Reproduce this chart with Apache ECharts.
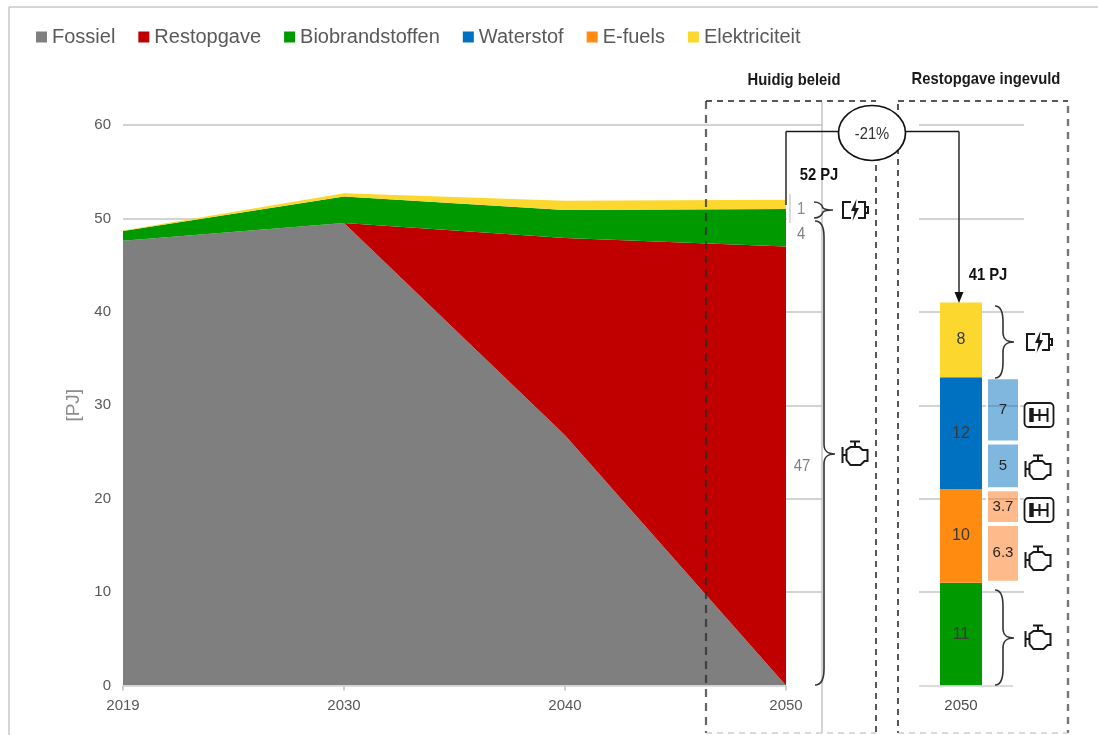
<!DOCTYPE html>
<html>
<head>
<meta charset="utf-8">
<style>
  html, body { margin: 0; padding: 0; background: #fff; }
  #chart { width: 1098px; height: 735px; }
</style>
<script src="https://cdn.jsdelivr.net/npm/echarts@6/dist/echarts.min.js"></script>
</head>
<body>
<div id="chart"></div>
<script>
// Road transport energy demand in PJ: trajectory to 2050 and the filled-in 2050 mix.
const years = ['2019', '2030', '2040', '2050'];
const fossil = [47.6, 49.5, 26.8, 0];
const remainder = [0, 0, 21.1, 47];
const biofuels = [1.05, 2.85, 3, 4];
const electricity = [0.05, 0.35, 1, 1];

const mixCategory = ['', '', '2050', '', '', ''];
const mixBiofuels = [11];
const mixEfuels = [10];
const mixHydrogen = [12];
const mixElectricity = [8];

// Split of the hydrogen and e-fuel blocks by vehicle type
const efuelsEngine = [6.3];
const efuelsTruck = [3.7];
const hydrogenEngine = [5];
const hydrogenTruck = [7];

const legendNames = ['Fossiel', 'Restopgave', 'Biobrandstoffen', 'Waterstof', 'E-fuels', 'Elektriciteit'];
const policyTitle = 'Huidig beleid';
const filledTitle = 'Restopgave ingevuld';
const reductionLabel = '-21%';

const COLORS = { fossil: '#7f7f7f', remainder: '#c00000', bio: '#009900', hydrogen: '#0070c0', efuel: '#ff8c10', elec: '#fcd82e' };
const PALE_HYDROGEN = 'rgba(0,112,192,0.5)';
const PALE_EFUEL = 'rgba(255,122,32,0.52)';
const FONT = '"Liberation Sans", Arial, sans-serif';
const MAIN_SLOT = 2, SPLIT_SLOT = 4, SLOT_COUNT = mixCategory.length;

const last = years.length - 1;
const total2050 = fossil[last] + remainder[last] + biofuels[last] + electricity[last];
const mixTotal = mixBiofuels[0] + mixEfuels[0] + mixHydrogen[0] + mixElectricity[0];

function areaSeries(name, values, color) {
  return {
    name, type: 'line', stack: 'trajectory', xAxisIndex: 0, yAxisIndex: 0,
    data: values,
    symbol: 'none', lineStyle: { width: 0 }, itemStyle: { color },
    areaStyle: { color, opacity: 1 }, z: 3
  };
}

function slotted(values, slot) {
  const row = new Array(SLOT_COUNT).fill(null);
  row[slot] = values[0];
  return row;
}

function mainBar(name, values, color) {
  return {
    name, type: 'bar', stack: 'mix', xAxisIndex: 1, yAxisIndex: 1, barWidth: 42,
    data: slotted(values, MAIN_SLOT), itemStyle: { color }, z: 3,
    label: { show: true, position: 'inside', color: '#3a3a3a', fontFamily: FONT, fontSize: 16 }
  };
}

function splitBar(name, values, color) {
  return {
    name, type: 'bar', stack: 'split', xAxisIndex: 2, yAxisIndex: 1, barWidth: 34,
    data: slotted(values, SPLIT_SLOT),
    itemStyle: { color, borderColor: '#fff', borderWidth: 2 }, z: 3,
    label: { show: true, position: 'inside', color: '#262626', fontFamily: FONT, fontSize: 15 }
  };
}

// Free-form outlines are registered once as graphic shapes
let shapeCount = 0;
function outline(d, style, z) {
  const type = 'annotationPath' + (shapeCount++);
  echarts.graphic.registerShape(type, echarts.graphic.extendPath(d, {}));
  return { type, z: z || 65, silent: true, shape: {}, style };
}

// Annotation helpers
const line = (x1, y1, x2, y2, stroke, lineWidth, lineDash) => ({
  type: 'line', z: 60, silent: true,
  shape: { x1, y1, x2, y2 },
  style: { stroke, lineWidth, lineDash: lineDash || null, fill: null }
});
const label = (x, y, text, size, fill, weight) => ({
  type: 'text', z: 70, silent: true, x, y, scaleX: 0.87,
  style: { text, fill, font: (weight || 'normal') + ' ' + size + 'px ' + FONT, textAlign: 'center', textVerticalAlign: 'middle' }
});

const INK = { stroke: '#1a1a1a', lineWidth: 2, fill: null };
const ENGINE = 'M1 7V23M1 15H5M5 10L9 7H18L21 10H26V21H23L19 25H9L5 20ZM13.5 7V2M8.5 1.5H18.5';
function engine(cx, cy) {
  return { type: 'group', x: cx - 13.5, y: cy - 14, z: 65, silent: true, children: [outline(ENGINE, INK)] };
}
function battery(cx, cy) {
  return { type: 'group', x: cx - 13, y: cy - 10, z: 65, silent: true, children: [
    outline('M9 2H1V18H9M16 2H23V18H16M23 7H26V13H23', INK),
    outline('M14.5 -1L9 11H12.5L10.5 21L17 8H13.5Z', { fill: '#1a1a1a' }, 66)
  ] };
}
function truck(cx, cy) {
  return { type: 'group', x: cx - 14.5, y: cy - 12, z: 65, silent: true, children: [
    { type: 'rect', z: 65, shape: { x: 0, y: 0, width: 29, height: 24, r: 4 }, style: { stroke: '#1a1a1a', lineWidth: 1.8, fill: '#fff' } },
    outline('M7 5V19', { stroke: '#1a1a1a', lineWidth: 4.5, fill: null }, 66),
    outline('M7 12H23M15 6V18M23 5V19', INK, 66)
  ] };
}
const brace = (x0, xm, xt, y0, ym, y1) =>
  `M${x0} ${y0}C${xm - 2} ${y0} ${xm} ${y0 + 6} ${xm} ${y0 + 16}V${ym - 10}C${xm} ${ym - 3} ${xm + 3} ${ym} ${xt} ${ym}` +
  `C${xm + 3} ${ym} ${xm} ${ym + 3} ${xm} ${ym + 10}V${y1 - 16}C${xm} ${y1 - 6} ${xm - 2} ${y1} ${x0} ${y1}`;
const BRACE_INK = { stroke: '#333', lineWidth: 1.6, fill: null };

const DASH = [6, 5];
const annotations = [
  // outer frame
  line(9, 7, 1098, 7, '#c9c9c9', 1.5),
  line(9, 7, 9, 735, '#c9c9c9', 1.5),
  // x axis baselines
  line(123, 686, 786, 686, '#cfcfcf', 1.5),
  line(919, 686, 1013, 686, '#cfcfcf', 1.5),
  // blank strip behind the small end-of-series labels
  { type: 'rect', z: 1, silent: true, shape: { x: 787, y: 196, width: 34, height: 40 }, style: { fill: '#fff' } },
  line(790, 194, 790, 223, '#c4c4c4', 1.2),
  line(822, 102, 822, 733, '#bdbdbd', 1.3),
  // scenario boxes
  line(706, 101, 876, 101, '#222', 1.4, DASH),
  line(876, 165, 876, 733, '#111', 1.4, DASH),
  line(706, 101, 706, 733, 'rgba(40,40,40,0.72)', 2.2, [8, 6]),
  line(706, 733, 876, 733, '#b5b5b5', 1.2, DASH),
  line(898, 101, 1068, 101, '#222', 1.4, DASH),
  line(898, 104, 898, 733, '#111', 1.4, DASH),
  line(1068, 106, 1068, 733, '#777', 2.4, [7, 6]),
  line(898, 733, 1068, 733, '#b5b5b5', 1.2, DASH),
  label(794, 80, policyTitle, 17, '#1a1a1a', 'bold'),
  label(986, 79, filledTitle, 17, '#1a1a1a', 'bold'),
  // reduction connector
  line(786, 131.5, 786, 205, '#1a1a1a', 1.4),
  line(786, 131.5, 840, 131.5, '#1a1a1a', 1.4),
  line(904, 131.5, 959, 131.5, '#1a1a1a', 1.4),
  line(959, 131.5, 959, 296, '#1a1a1a', 1.4),
  { type: 'polygon', z: 65, silent: true, shape: { points: [[954.5, 292], [963.5, 292], [959, 303]] }, style: { fill: '#111' } },
  { type: 'ellipse', z: 66, silent: true, shape: { cx: 872, cy: 133, rx: 33.5, ry: 27.5 }, style: { fill: '#fff', stroke: '#111', lineWidth: 1.7 } },
  label(872, 134, reductionLabel, 17, '#333'),
  // totals and end-of-series values
  label(819, 175, total2050 + ' PJ', 17, '#111', 'bold'),
  label(988, 275, mixTotal + ' PJ', 17, '#111', 'bold'),
  label(801, 209, String(electricity[last]), 17, '#8c8c8c'),
  label(801, 234, String(biofuels[last]), 17, '#7f7f7f'),
  label(802, 466, String(remainder[last] + fossil[last]), 17, '#7f7f7f'),
  // braces
  outline('M814 202C820 202 822 205 823 208C824 209 827 210 833 210C827 210 824 211 823 212C822 215 820 218 814 218', BRACE_INK, 64),
  outline(brace(815, 824, 835, 221, 454, 685), BRACE_INK, 64),
  outline(brace(995, 1003, 1014, 306, 342, 378), BRACE_INK, 64),
  outline(brace(995, 1003, 1014, 590, 638, 685), BRACE_INK, 64),
  // vehicle and drivetrain symbols
  battery(855, 210),
  engine(855, 454),
  battery(1039, 342),
  truck(1039, 415),
  engine(1038, 468),
  truck(1039, 510),
  engine(1038, 559),
  engine(1038, 638)
];

const axisText = { color: '#595959', fontFamily: FONT, fontSize: 15 };
const gridLine = { show: true, showMinLine: false, lineStyle: { color: '#c4c4c4', width: 1.5 } };

const chart = echarts.init(document.getElementById('chart'), null, { renderer: 'canvas' });
chart.setOption({
  animation: false,
  backgroundColor: '#fff',
  legend: {
    data: legendNames, left: 31, top: 22, itemWidth: 11, itemHeight: 11, itemGap: 23, icon: 'rect',
    textStyle: { color: '#595959', fontFamily: FONT, fontSize: 20 }
  },
  grid: [
    { left: 123, right: 312, top: 125, bottom: 49.5 },  // area plot, ends at 2050
    { left: 919, right: 74, top: 125, bottom: 49.5 },   // 2050 stacked bars
    { left: 123, right: 276, top: 125, bottom: 49.5 }   // gridlines run on past 2050
  ],
  xAxis: [
    {
      type: 'category', gridIndex: 0, data: years, boundaryGap: false,
      axisLine: { show: false },
      axisTick: { show: true, length: 5, lineStyle: { color: '#bdbdbd', width: 1.5 } },
      axisLabel: { ...axisText, margin: 13 }
    },
    {
      type: 'category', gridIndex: 1, data: mixCategory, boundaryGap: false,
      axisLine: { show: false }, axisTick: { show: false },
      axisLabel: { ...axisText, color: '#4d4d4d', margin: 13, interval: 0 }
    },
    {
      type: 'category', gridIndex: 1, data: mixCategory.map(() => ''), boundaryGap: false, show: false
    },
    {
      type: 'value', gridIndex: 2, min: 0, max: 1, show: false
    }
  ],
  yAxis: [
    {
      type: 'value', gridIndex: 0, min: 0, max: 60, interval: 10,
      axisLine: { show: false }, axisTick: { show: false },
      axisLabel: { ...axisText, margin: 12 }, splitLine: { show: false },
      name: '[PJ]', nameLocation: 'middle', nameGap: 32, nameRotate: 90,
      nameTextStyle: { color: '#8c8c8c', fontFamily: FONT, fontSize: 19 }
    },
    {
      type: 'value', gridIndex: 1, min: 0, max: 60, interval: 10,
      axisLine: { show: false }, axisTick: { show: false }, axisLabel: { show: false }, splitLine: gridLine
    },
    {
      type: 'value', gridIndex: 2, min: 0, max: 60, interval: 10,
      axisLine: { show: false }, axisTick: { show: false }, axisLabel: { show: false }, splitLine: gridLine
    }
  ],
  series: [
    areaSeries('Fossiel', fossil, COLORS.fossil),
    areaSeries('Restopgave', remainder, COLORS.remainder),
    areaSeries('Biobrandstoffen', biofuels, COLORS.bio),
    areaSeries('Elektriciteit', electricity, COLORS.elec),

    mainBar('Biobrandstoffen', mixBiofuels, COLORS.bio),
    mainBar('E-fuels', mixEfuels, COLORS.efuel),
    mainBar('Waterstof', mixHydrogen, COLORS.hydrogen),
    mainBar('Elektriciteit', mixElectricity, COLORS.elec),

    {
      name: 'spacer', type: 'bar', stack: 'split', xAxisIndex: 2, yAxisIndex: 1, barWidth: 34,
      data: slotted(mixBiofuels, SPLIT_SLOT), itemStyle: { color: 'transparent' }, silent: true
    },
    splitBar('E-fuels motor', efuelsEngine, PALE_EFUEL),
    splitBar('E-fuels truck', efuelsTruck, PALE_EFUEL),
    splitBar('Waterstof motor', hydrogenEngine, PALE_HYDROGEN),
    splitBar('Waterstof truck', hydrogenTruck, PALE_HYDROGEN)
  ],
  graphic: { elements: annotations }
});
</script>
</body>
</html>
